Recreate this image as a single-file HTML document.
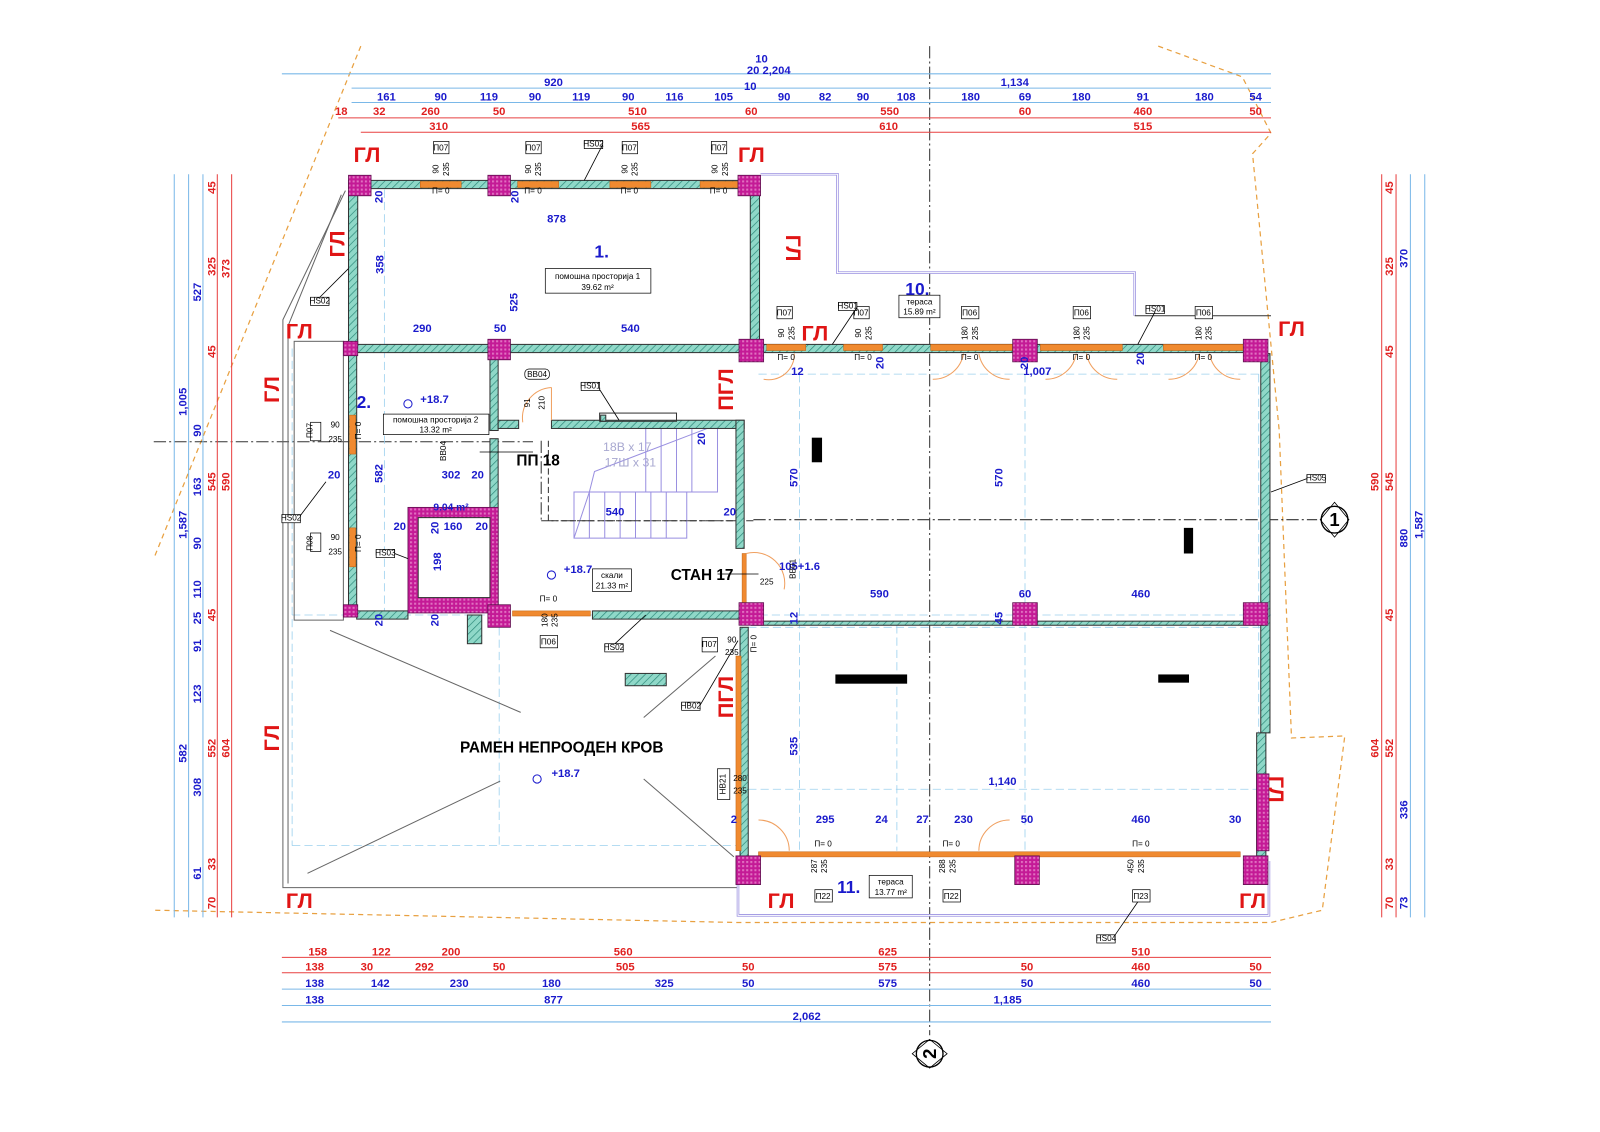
<!DOCTYPE html>
<html><head><meta charset="utf-8"><style>
html,body{margin:0;padding:0;background:#fff;}
svg{display:block;font-family:"Liberation Sans",sans-serif;}
.b{fill:#1a1acc;font-weight:bold;font-size:11px;text-anchor:middle}
.r{fill:#e02020;font-weight:bold;font-size:11px;text-anchor:middle}
.gl{fill:#e01515;font-weight:bold;font-size:21px;text-anchor:middle}
.k{fill:#000;font-size:8px;text-anchor:middle}
.kb{fill:#000;font-weight:bold;font-size:15px;text-anchor:middle}
.bl{stroke:#7ab8e8;stroke-width:1;fill:none}
.rl{stroke:#e84040;stroke-width:1;fill:none}
.w{fill:url(#hatch);stroke:#333;stroke-width:1}
.p{fill:url(#pil);stroke:#601050;stroke-width:.8}
.o{fill:#f08a30;stroke:#c06010;stroke-width:.5}
.tag{fill:#fff;stroke:#000;stroke-width:.7}
</style></head><body>
<svg width="1600" height="1132" viewBox="0 0 1600 1132" xmlns="http://www.w3.org/2000/svg">
<defs>
<pattern id="hatch" width="5" height="5" patternUnits="userSpaceOnUse" patternTransform="rotate(45)">
<rect width="5" height="5" fill="#8fd8c8"/><line x1="0" y1="0" x2="0" y2="5" stroke="#2f8c7c" stroke-width="1.4"/></pattern>
<pattern id="pil" width="4" height="4" patternUnits="userSpaceOnUse">
<rect width="4" height="4" fill="#c41a96"/><rect width="2" height="2" fill="#e070c0"/></pattern>
</defs>
<g transform="scale(1.025)">
<!-- boundary dashed orange -->
<g stroke="#e8a040" stroke-width="1.2" stroke-dasharray="5,4" fill="none">
<polyline points="352,45 150,545"/>
<polyline points="1130,45 1212,75 1240,130 1222,150 1248,420 1260,720 1312,718 1290,888 1240,900 720,900 150,888"/>
</g>

<!-- axis lines -->
<g stroke="#333" stroke-width="1" stroke-dasharray="12,3,2,3" fill="none">
<line x1="907" y1="45" x2="907" y2="1010"/>
<line x1="150" y1="431" x2="520" y2="431"/>
<line x1="735" y1="507" x2="1285" y2="507"/>
<line x1="528" y1="430" x2="528" y2="508"/>
<line x1="528" y1="508" x2="735" y2="508"/>
</g>
<g stroke="#000" fill="none" stroke-width="1.3">
<circle cx="1302" cy="507" r="13"/><path d="M1288,507 L1302,490 L1316,507 L1302,524 Z" stroke-width=".8"/>
<circle cx="907" cy="1028" r="13"/><path d="M907,1014 L890,1028 L907,1042 L924,1028Z" stroke-width=".8"/>
</g>
<text x="1302" y="513" font-size="18" text-anchor="middle" font-weight="bold">1</text>
<text x="907" y="1034" font-size="18" text-anchor="middle" font-weight="bold" transform="rotate(-90 907 1028)">2</text>

<!-- light blue grid lines -->
<g stroke="#9cd0ee" stroke-width=".8" fill="none" stroke-dasharray="8,4">
<line x1="285" y1="600" x2="1240" y2="600"/><line x1="285" y1="825" x2="730" y2="825"/>
<line x1="285" y1="340" x2="285" y2="825"/><line x1="375" y1="185" x2="375" y2="600"/>
<line x1="487" y1="600" x2="487" y2="825"/><line x1="740" y1="365" x2="1230" y2="365"/>
<line x1="1000" y1="365" x2="1000" y2="830"/><line x1="875" y1="610" x2="875" y2="830"/>
<line x1="780" y1="365" x2="780" y2="830"/><line x1="1228" y1="365" x2="1228" y2="830"/>
<line x1="730" y1="770" x2="1230" y2="770"/><line x1="730" y1="612" x2="1230" y2="612"/>
</g>

<!-- roof outline grey -->
<g stroke="#666" stroke-width="1" fill="none">
<polyline points="337,186 276,312 276,866 720,866"/>
<polyline points="333,190 281,318 281,862"/>
<line x1="322" y1="615" x2="508" y2="695"/><line x1="628" y1="700" x2="698" y2="640"/>
<line x1="300" y1="852" x2="488" y2="762"/><line x1="628" y1="760" x2="716" y2="836"/>
<rect x="287" y="333" width="48" height="272"/>
</g>
<!-- terrace outlines -->
<g stroke="#9a90e0" stroke-width="2.5" fill="none">
<polyline points="742,170 817,170 817,266 1107,266 1107,308"/>
<polyline points="720,840 720,893 1238,893 1238,840"/>
</g>
<g stroke="#fff" stroke-width="1" fill="none">
<polyline points="742,170 817,170 817,266 1107,266 1107,308"/>
<polyline points="720,840 720,893 1238,893 1238,840"/>
</g>
<polyline points="1107,308 1240,308" stroke="#333" fill="none"/>

<!-- stairs -->
<g stroke="#9a90e0" stroke-width="1" fill="none">
<rect x="560" y="480" width="110" height="45"/>
<rect x="630" y="418" width="70" height="62"/>
<polyline points="560,525 575,480 580,460 690,418"/>
<line x1="575" y1="480" x2="575" y2="525"/><line x1="590" y1="480" x2="590" y2="525"/><line x1="605" y1="480" x2="605" y2="525"/><line x1="620" y1="480" x2="620" y2="525"/><line x1="635" y1="480" x2="635" y2="525"/><line x1="650" y1="480" x2="650" y2="525"/>
<line x1="645" y1="418" x2="645" y2="480"/><line x1="660" y1="418" x2="660" y2="480"/><line x1="675" y1="418" x2="675" y2="480"/>
</g>
<g stroke="#333" stroke-dasharray="6,3" fill="none"><polyline points="535,430 535,508 726,508"/></g>

<!-- walls -->
<rect class="w" x="340" y="176" width="392" height="8"/>
<rect class="w" x="340" y="186" width="9" height="150"/>
<rect class="w" x="732" y="186" width="9" height="148"/>
<rect class="w" x="340" y="336" width="145" height="8"/>
<rect class="w" x="497" y="336" width="236" height="8"/>
<rect class="w" x="340" y="345" width="8" height="253"/>
<rect class="w" x="478" y="345" width="8" height="75"/>
<rect class="w" x="478" y="428" width="8" height="170"/>
<rect class="w" x="486" y="410" width="20" height="8"/><rect class="w" x="538" y="410" width="188" height="8"/>
<rect class="w" x="718" y="410" width="8" height="125"/>
<rect class="w" x="348" y="596" width="50" height="8"/><rect class="w" x="578" y="596" width="145" height="8"/>
<rect class="w" x="586" y="405" width="5" height="6" /><rect x="585" y="403" width="75" height="8" fill="none" stroke="#333"/>
<rect class="w" x="741" y="336" width="490" height="8"/>
<rect class="w" x="1230" y="345" width="9" height="370"/>
<rect class="w" x="1226" y="715" width="9" height="120"/>
<rect class="w" x="722" y="612" width="8" height="225"/>
<rect class="w" x="733" y="606" width="500" height="4" />
<rect class="w" x="456" y="600" width="14" height="28"/>
<rect class="w" x="610" y="657" width="40" height="12"/>
<!-- elevator -->
<rect class="p" x="398" y="495" width="88" height="103"/>
<rect x="408" y="505" width="70" height="78" fill="#fff" stroke="#333"/>
<!-- orange windows/doors -->
<rect class="o" x="410" y="177" width="40" height="6"/><rect class="o" x="505" y="177" width="40" height="6"/><rect class="o" x="595" y="177" width="40" height="6"/><rect class="o" x="683" y="177" width="40" height="6"/>
<rect class="o" x="748" y="336" width="38" height="6"/><rect class="o" x="823" y="336" width="38" height="6"/><rect class="o" x="908" y="336" width="80" height="6"/><rect class="o" x="1015" y="336" width="80" height="6"/><rect class="o" x="1135" y="336" width="80" height="6"/>
<rect class="o" x="341" y="405" width="6" height="38"/><rect class="o" x="341" y="515" width="6" height="38"/>
<rect class="o" x="500" y="596" width="76" height="5"/>
<rect class="o" x="740" y="831" width="470" height="5"/>
<rect class="o" x="718" y="640" width="5" height="190"/>
<rect class="o" x="724" y="540" width="4" height="60"/>
<!-- door swings -->
<g stroke="#f0a060" fill="none" stroke-width="1">
<path d="M510,412 A30,30 0 0 1 538,378"/><line x1="538" y1="378" x2="538" y2="410"/>
<path d="M910,370 A30,30 0 0 0 940,345"/><path d="M985,370 A30,30 0 0 1 955,345"/>
<path d="M1020,370 A30,30 0 0 0 1050,345"/><path d="M1090,370 A30,30 0 0 1 1060,345"/>
<path d="M1140,370 A30,30 0 0 0 1170,345"/><path d="M1210,370 A30,30 0 0 1 1180,345"/>
<path d="M745,370 A25,25 0 0 0 775,345"/>
<path d="M740,800 A30,30 0 0 1 770,830"/><path d="M955,830 A30,30 0 0 1 985,800"/>
<path d="M728,540 A30,30 0 0 1 765,575"/>
</g>

<!-- pillars -->
<rect class="p" x="340" y="171" width="22" height="20"/><rect class="p" x="476" y="171" width="22" height="20"/><rect class="p" x="720" y="171" width="22" height="20"/>
<rect class="p" x="335" y="333" width="14" height="14"/><rect class="p" x="476" y="331" width="22" height="20"/><rect class="p" x="721" y="331" width="24" height="22"/>
<rect class="p" x="988" y="331" width="24" height="22"/><rect class="p" x="1213" y="331" width="24" height="22"/>
<rect class="p" x="335" y="590" width="14" height="12"/><rect class="p" x="476" y="590" width="22" height="22"/><rect class="p" x="721" y="588" width="24" height="22"/>
<rect class="p" x="988" y="588" width="24" height="22"/><rect class="p" x="1213" y="588" width="24" height="22"/>
<rect class="p" x="718" y="835" width="24" height="28"/><rect class="p" x="990" y="835" width="24" height="28"/><rect class="p" x="1213" y="835" width="24" height="28"/>
<rect class="p" x="1226" y="755" width="12" height="75"/>
<!-- black marks -->
<rect x="792" y="427" width="10" height="24" fill="#000"/><rect x="1155" y="515" width="9" height="25" fill="#000"/>
<rect x="815" y="658" width="70" height="9" fill="#000"/><rect x="1130" y="658" width="30" height="8" fill="#000"/>

<!-- top dimension lines -->
<g class="bl"><line x1="275" y1="72" x2="1240" y2="72"/><line x1="343" y1="86" x2="1240" y2="86"/><line x1="343" y1="100" x2="1240" y2="100"/></g>
<g class="rl"><line x1="330" y1="115" x2="1240" y2="115"/><line x1="352" y1="129" x2="1240" y2="129"/></g>
<text class="b" x="743" y="61">10</text><text class="b" x="750" y="72">20 2,204</text>
<text class="b" x="540" y="84">920</text><text class="b" x="990" y="84">1,134</text><text class="b" x="732" y="88">10</text>
<g class="b"><text x="377" y="98">161</text><text x="430" y="98">90</text><text x="477" y="98">119</text><text x="522" y="98">90</text><text x="567" y="98">119</text><text x="613" y="98">90</text><text x="658" y="98">116</text><text x="706" y="98">105</text><text x="765" y="98">90</text><text x="805" y="98">82</text><text x="842" y="98">90</text><text x="884" y="98">108</text><text x="947" y="98">180</text><text x="1000" y="98">69</text><text x="1055" y="98">180</text><text x="1115" y="98">91</text><text x="1175" y="98">180</text><text x="1225" y="98">54</text></g>
<g class="r"><text x="333" y="112">18</text><text x="370" y="112">32</text><text x="420" y="112">260</text><text x="487" y="112">50</text><text x="622" y="112">510</text><text x="733" y="112">60</text><text x="868" y="112">550</text><text x="1000" y="112">60</text><text x="1115" y="112">460</text><text x="1225" y="112">50</text>
<text x="428" y="127">310</text><text x="625" y="127">565</text><text x="867" y="127">610</text><text x="1115" y="127">515</text></g>

<!-- bottom dimension lines -->
<g class="rl"><line x1="275" y1="934" x2="1240" y2="934"/><line x1="275" y1="949" x2="1240" y2="949"/></g>
<g class="bl"><line x1="275" y1="965" x2="1240" y2="965"/><line x1="275" y1="981" x2="1240" y2="981"/><line x1="275" y1="997" x2="1240" y2="997"/></g>
<g class="r"><text x="310" y="932">158</text><text x="372" y="932">122</text><text x="440" y="932">200</text><text x="608" y="932">560</text><text x="866" y="932">625</text><text x="1113" y="932">510</text>
<text x="307" y="947">138</text><text x="358" y="947">30</text><text x="414" y="947">292</text><text x="487" y="947">50</text><text x="610" y="947">505</text><text x="730" y="947">50</text><text x="866" y="947">575</text><text x="1002" y="947">50</text><text x="1113" y="947">460</text><text x="1225" y="947">50</text></g>
<g class="b"><text x="307" y="963">138</text><text x="371" y="963">142</text><text x="448" y="963">230</text><text x="538" y="963">180</text><text x="648" y="963">325</text><text x="730" y="963">50</text><text x="866" y="963">575</text><text x="1002" y="963">50</text><text x="1113" y="963">460</text><text x="1225" y="963">50</text>
<text x="307" y="979">138</text><text x="540" y="979">877</text><text x="983" y="979">1,185</text><text x="787" y="995">2,062</text></g>

<!-- left dimension lines -->
<g class="bl"><line x1="170" y1="170" x2="170" y2="895"/><line x1="184" y1="170" x2="184" y2="895"/><line x1="198" y1="170" x2="198" y2="895"/></g>
<g class="rl"><line x1="212" y1="170" x2="212" y2="895"/><line x1="226" y1="170" x2="226" y2="895"/></g>
<g class="b" transform="rotate(-90)">
<text x="-512" y="182">1,587</text><text x="-285" y="196">527</text><text x="-392" y="182">1,005</text><text x="-420" y="196">90</text><text x="-475" y="196">163</text><text x="-530" y="196">90</text><text x="-575" y="196">110</text><text x="-603" y="196">25</text><text x="-630" y="196">91</text><text x="-677" y="196">123</text><text x="-735" y="182">582</text><text x="-768" y="196">308</text><text x="-852" y="196">61</text></g>
<g class="r" transform="rotate(-90)">
<text x="-183" y="210">45</text><text x="-260" y="210">325</text><text x="-262" y="224">373</text><text x="-343" y="210">45</text><text x="-470" y="210">545</text><text x="-470" y="224">590</text><text x="-600" y="210">45</text><text x="-730" y="210">552</text><text x="-730" y="224">604</text><text x="-843" y="210">33</text><text x="-881" y="210">70</text></g>

<!-- right dimension lines -->
<g class="rl"><line x1="1348" y1="170" x2="1348" y2="895"/><line x1="1362" y1="170" x2="1362" y2="895"/></g>
<g class="bl"><line x1="1376" y1="170" x2="1376" y2="895"/><line x1="1390" y1="170" x2="1390" y2="895"/></g>
<g class="r" transform="rotate(-90)">
<text x="-183" y="1359">45</text><text x="-260" y="1359">325</text><text x="-343" y="1359">45</text><text x="-470" y="1345">590</text><text x="-470" y="1359">545</text><text x="-600" y="1359">45</text><text x="-730" y="1345">604</text><text x="-730" y="1359">552</text><text x="-843" y="1359">33</text><text x="-881" y="1359">70</text></g>
<g class="b" transform="rotate(-90)">
<text x="-252" y="1373">370</text><text x="-525" y="1373">880</text><text x="-512" y="1388">1,587</text><text x="-790" y="1373">336</text><text x="-881" y="1373">73</text></g>

<!-- ГЛ labels -->
<g class="gl"><text x="358" y="158">ГЛ</text><text x="733" y="158">ГЛ</text><text x="292" y="330">ГЛ</text><text x="1260" y="328">ГЛ</text><text x="292" y="886">ГЛ</text><text x="762" y="886">ГЛ</text><text x="1222" y="886">ГЛ</text>
<text x="795" y="332">ГЛ</text>
<text transform="translate(336,238) rotate(-90)">ГЛ</text><text transform="translate(767,242) rotate(90)">ГЛ</text>
<text transform="translate(272,380) rotate(-90)">ГЛ</text><text transform="translate(272,720) rotate(-90)">ГЛ</text>
<text transform="translate(715,380) rotate(-90)">ПГЛ</text><text transform="translate(715,680) rotate(-90)">ПГЛ</text>
<text transform="translate(1238,770) rotate(90)">ГЛ</text></g>

<!-- blue interior dims -->
<g class="b"><text x="543" y="217">878</text><text x="412" y="324">290</text><text x="488" y="324">50</text><text x="615" y="324">540</text>
<text x="440" y="467">302</text><text x="326" y="467">20</text><text x="466" y="467">20</text><text x="442" y="517">160</text><text x="390" y="517">20</text><text x="470" y="517">20</text>
<text x="600" y="503">540</text><text x="712" y="503">20</text><text x="1012" y="366">1,007</text><text x="778" y="366">12</text>
<text x="858" y="583">590</text><text x="1000" y="583">60</text><text x="1113" y="583">460</text>
<text x="978" y="766">1,140</text><text x="805" y="803">295</text><text x="860" y="803">24</text><text x="900" y="803">27</text><text x="940" y="803">230</text><text x="1002" y="803">50</text><text x="1113" y="803">460</text><text x="1205" y="803">30</text><text x="716" y="803">2</text>
<text x="440" y="498" font-size="10">9.04 m²</text></g>
<g class="b" transform="rotate(-90)"><text x="-192" y="373">20</text><text x="-192" y="506">20</text><text x="-258" y="374">358</text><text x="-295" y="505">525</text><text x="-462" y="373">582</text><text x="-548" y="430">198</text><text x="-515" y="428">20</text><text x="-605" y="373">20</text><text x="-605" y="428">20</text><text x="-428" y="688">20</text><text x="-466" y="778">570</text><text x="-466" y="978">570</text><text x="-354" y="862">20</text><text x="-354" y="1003">20</text><text x="-350" y="1116">20</text><text x="-603" y="778">12</text><text x="-603" y="978">45</text><text x="-728" y="778">535</text></g>

<!-- room labels -->
<text x="587" y="251" fill="#1a1acc" font-weight="bold" font-size="17" text-anchor="middle">1.</text>
<rect class="tag" x="532" y="262" width="103" height="24"/><text class="k" x="583" y="272">помошна просторија 1</text><text class="k" x="583" y="283">39.62 m²</text>
<text x="355" y="398" fill="#1a1acc" font-weight="bold" font-size="17" text-anchor="middle">2.</text>
<rect class="tag" x="374" y="404" width="103" height="20"/><text class="k" x="425" y="412">помошна просторија 2</text><text class="k" x="425" y="422">13.32 m²</text>
<text x="895" y="288" fill="#1a1acc" font-weight="bold" font-size="17" text-anchor="middle">10.</text>
<rect class="tag" x="877" y="288" width="40" height="22"/><text class="k" x="897" y="297">тераса</text><text class="k" x="897" y="307">15.89 m²</text>
<text x="828" y="871" fill="#1a1acc" font-weight="bold" font-size="17" text-anchor="middle">11.</text>
<rect class="tag" x="848" y="854" width="42" height="22"/><text class="k" x="869" y="863">тераса</text><text class="k" x="869" y="873">13.77 m²</text>
<rect class="tag" x="578" y="555" width="38" height="22"/><text class="k" x="597" y="564">скали</text><text class="k" x="597" y="574">21.33 m²</text>
<text class="kb" x="685" y="566">СТАН 17</text><text class="kb" x="525" y="454">ПП 18</text>
<text class="kb" x="548" y="734">РАМЕН НЕПРООДЕН КРОВ</text>
<text x="612" y="440" fill="#a8a8d0" font-size="12" text-anchor="middle">18В x 17</text><text x="615" y="455" fill="#a8a8d0" font-size="12" text-anchor="middle">17Ш x 31</text>
<g fill="#1a1acc" font-weight="bold" font-size="11"><text x="410" y="393">+18.7</text><text x="550" y="559">+18.7</text><text x="538" y="758">+18.7</text><text x="760" y="556">105+1.6</text></g>
<g stroke="#1a1acc" fill="none"><circle cx="398" cy="394" r="4"/><circle cx="538" cy="561" r="4"/><circle cx="524" cy="760" r="4"/></g>

<!-- window tags small -->
<g><rect class="tag" x="423" y="138" width="15" height="12"/><rect class="tag" x="513" y="138" width="15" height="12"/><rect class="tag" x="607" y="138" width="15" height="12"/><rect class="tag" x="694" y="138" width="15" height="12"/>
<rect class="tag" x="758" y="299" width="15" height="12"/><rect class="tag" x="833" y="299" width="15" height="12"/><rect class="tag" x="938" y="299" width="17" height="12"/><rect class="tag" x="1047" y="299" width="17" height="12"/><rect class="tag" x="1166" y="299" width="17" height="12"/>
<rect class="tag" x="527" y="620" width="17" height="12"/><rect class="tag" x="685" y="622" width="15" height="14"/><rect class="tag" x="795" y="868" width="17" height="12"/><rect class="tag" x="920" y="868" width="17" height="12"/><rect class="tag" x="1105" y="868" width="17" height="12"/>
<rect class="tag" x="303" y="412" width="10" height="18"/><rect class="tag" x="303" y="520" width="10" height="18"/><rect class="tag" x="700" y="750" width="12" height="30"/></g>
<g class="k" font-size="7"><text x="430" y="147">П07</text><text x="520" y="147">П07</text><text x="614" y="147">П07</text><text x="701" y="147">П07</text>
<text x="765" y="308">П07</text><text x="840" y="308">П07</text><text x="946" y="308">П06</text><text x="1055" y="308">П06</text><text x="1174" y="308">П06</text>
<text x="535" y="629">П06</text><text x="692" y="631">П07</text><text x="803" y="877">П22</text><text x="928" y="877">П22</text><text x="1113" y="877">П23</text>
<text x="430" y="189">П= 0</text><text x="520" y="189">П= 0</text><text x="614" y="189">П= 0</text><text x="701" y="189">П= 0</text><text x="767" y="351">П= 0</text><text x="842" y="351">П= 0</text><text x="946" y="351">П= 0</text><text x="1055" y="351">П= 0</text><text x="1174" y="351">П= 0</text>
<text x="535" y="587">П= 0</text><text x="803" y="826">П= 0</text><text x="928" y="826">П= 0</text><text x="1113" y="826">П= 0</text>
<text x="327" y="417">90</text><text x="327" y="431">235</text><text x="327" y="527">90</text><text x="327" y="541">235</text><text x="714" y="627">90</text><text x="714" y="639">235</text><text x="722" y="762">280</text><text x="722" y="774">235</text><text x="748" y="570">225</text></g>
<g class="k" font-size="7" transform="rotate(-90)"><text x="-165" y="428">90</text><text x="-165" y="438">235</text><text x="-165" y="518">90</text><text x="-165" y="528">235</text><text x="-165" y="612">90</text><text x="-165" y="622">235</text><text x="-165" y="700">90</text><text x="-165" y="710">235</text>
<text x="-325" y="765">90</text><text x="-325" y="775">235</text><text x="-325" y="840">90</text><text x="-325" y="850">235</text><text x="-325" y="944">180</text><text x="-325" y="954">235</text><text x="-325" y="1053">180</text><text x="-325" y="1063">235</text><text x="-325" y="1172">180</text><text x="-325" y="1182">235</text>
<text x="-605" y="534">180</text><text x="-605" y="544">235</text><text x="-845" y="797">287</text><text x="-845" y="807">235</text><text x="-845" y="922">288</text><text x="-845" y="932">235</text><text x="-845" y="1106">450</text><text x="-845" y="1116">235</text>
<text x="-420" y="305">П07</text><text x="-530" y="305">П08</text><text x="-765" y="708">НВ21</text><text x="-420" y="352">П= 0</text><text x="-530" y="352">П= 0</text><text x="-628" y="738">П= 0</text><text x="-393" y="517">91</text><text x="-393" y="531">210</text><text x="-555" y="776">ВВ01</text><text x="-440" y="435">ВВ04</text></g>
<rect class="tag" x="512" y="360" width="24" height="10" rx="4"/><text class="k" x="524" y="368">ВВ04</text>
<g class="k" font-size="6"><rect class="tag" x="570" y="137" width="18" height="8"/><text x="579" y="143">НS02</text><rect class="tag" x="303" y="290" width="18" height="8"/><text x="312" y="296">НS02</text><rect class="tag" x="275" y="502" width="18" height="8"/><text x="284" y="508">НS02</text><rect class="tag" x="567" y="373" width="18" height="8"/><text x="576" y="379">НS01</text>
<rect class="tag" x="818" y="295" width="18" height="8"/><text x="827" y="301">НS01</text><rect class="tag" x="1118" y="298" width="18" height="8"/><text x="1127" y="304">НS01</text><rect class="tag" x="1275" y="463" width="18" height="8"/><text x="1284" y="469">НS05</text>
<rect class="tag" x="367" y="536" width="18" height="8"/><text x="376" y="542">НS03</text><rect class="tag" x="590" y="628" width="18" height="8"/><text x="599" y="634">НS02</text><rect class="tag" x="665" y="685" width="18" height="8"/><text x="674" y="691">НВ02</text><rect class="tag" x="1070" y="912" width="18" height="8"/><text x="1079" y="918">НS04</text></g>
<g stroke="#000" stroke-width=".8" fill="none"><line x1="588" y1="141" x2="570" y2="176"/><line x1="312" y1="290" x2="340" y2="262"/><line x1="293" y1="503" x2="318" y2="470"/><line x1="585" y1="380" x2="604" y2="410"/><line x1="836" y1="300" x2="812" y2="336"/><line x1="1127" y1="304" x2="1110" y2="336"/><line x1="1275" y1="467" x2="1240" y2="480"/><line x1="385" y1="540" x2="398" y2="545"/><line x1="600" y1="628" x2="630" y2="600"/><line x1="683" y1="688" x2="720" y2="625"/><line x1="1088" y1="912" x2="1110" y2="880"/>
<line x1="468" y1="441" x2="520" y2="441"/><line x1="700" y1="560" x2="740" y2="560"/></g>
</g>
</svg>
</body></html>
